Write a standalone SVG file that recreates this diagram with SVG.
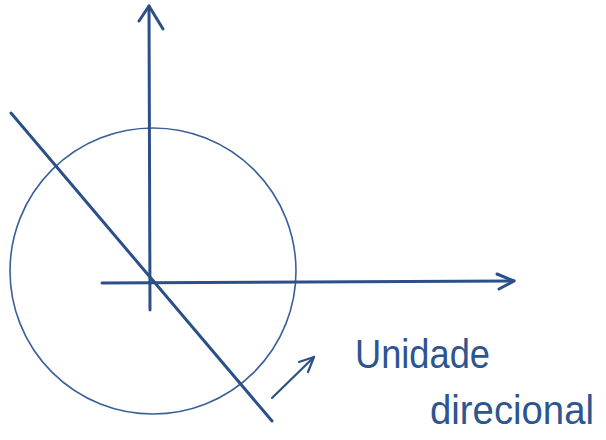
<svg xmlns="http://www.w3.org/2000/svg" width="606" height="440" viewBox="0 0 606 440">
<style>
.ax{stroke:#2b5088;stroke-width:3;fill:none;stroke-linecap:round;stroke-linejoin:round}
.th{stroke:#3a6098;stroke-width:1.6;fill:none}
.lbl{font-family:"Liberation Sans",Arial,sans-serif;fill:#2d5590}
</style>
<rect width="606" height="440" fill="#ffffff"/>
<g id="circle"><circle class="th" cx="153" cy="271" r="143"/></g>
<g id="connectors">
<path class="ax" d="M150,310 L149,6"/>
<path class="ax" d="M139,21 L149,6 L163,29"/>
<path class="ax" d="M102,283 L514,281"/>
<path class="ax" d="M497,274 L514,281 L499,289"/>
<path class="ax" d="M11,113 L272,421"/>
<path class="ax" d="M272,398 L314,357" style="stroke-width:2.2"/>
<path class="ax" d="M299,362 L314,357 L308,372" style="stroke-width:2.2"/>
</g>
<g id="label">
<text class="lbl" x="355" y="368" font-size="40" textLength="135" lengthAdjust="spacingAndGlyphs">Unidade</text>
<text class="lbl" x="430" y="424" font-size="40" textLength="164" lengthAdjust="spacingAndGlyphs">direcional</text>
</g>
</svg>
